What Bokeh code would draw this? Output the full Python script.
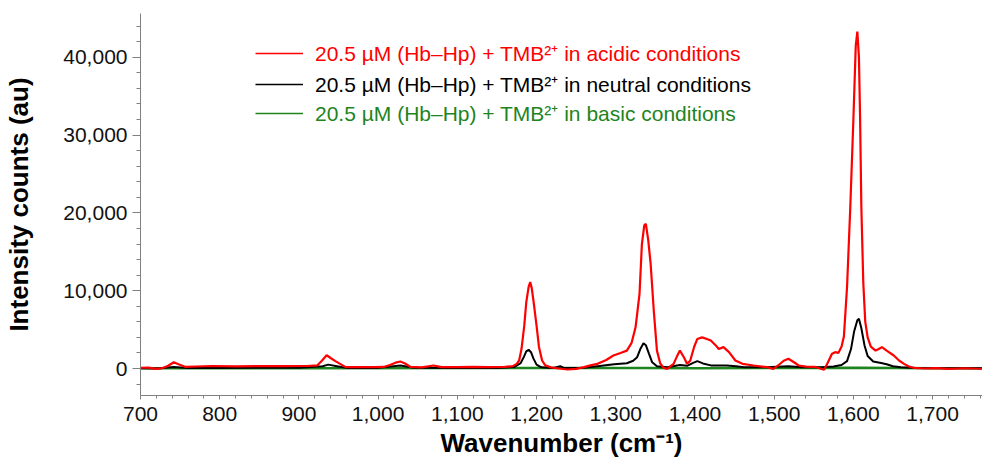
from bokeh.plotting import figure
from bokeh.models import Range1d, FixedTicker, NumeralTickFormatter, Legend, LegendItem
from bokeh.embed import file_html
from bokeh.resources import INLINE

# ---- data ----
wn_acidic = [700, 710, 720, 728, 735, 742, 748, 757, 770, 790, 820, 850, 880, 910, 923, 929, 935, 940, 946, 952, 959,
             975, 995, 1007, 1015, 1022, 1028, 1034, 1041, 1055, 1070, 1080, 1100, 1120, 1140, 1160, 1170, 1175, 1178,
             1181, 1184.5, 1187, 1190, 1192, 1194, 1197, 1200, 1203, 1207, 1211, 1218, 1228, 1239, 1250, 1260, 1268,
             1277, 1288, 1297, 1306, 1314, 1320, 1325, 1330, 1333, 1336, 1338, 1341, 1344, 1348, 1352, 1356, 1360, 1365,
             1373, 1377, 1381, 1386, 1390, 1394, 1399, 1403, 1409, 1415, 1420, 1426, 1430, 1436, 1443, 1451, 1460, 1474,
             1491, 1499, 1505, 1512, 1518, 1525, 1531, 1540, 1552, 1558, 1563, 1567, 1573, 1577, 1581, 1585, 1588, 1592,
             1596, 1600, 1603, 1605, 1607, 1608.5, 1610, 1612.5, 1615, 1618, 1622, 1628, 1632, 1636, 1642, 1651, 1658,
             1664, 1670, 1676, 1690, 1705, 1720, 1740, 1760, 1775]
int_acidic = [100, 120, -40, 60, 350, 800, 550, 200, 260, 320, 280, 300, 300, 320, 390, 1000, 1700, 1350, 950, 600, 170,
              180, 170, 200, 450, 750, 900, 650, 200, 150, 390, 180, 170, 200, 170, 200, 300, 600, 1030,
              2500, 5500, 8500, 10500, 11100, 10300, 8000, 5500, 2800, 1030, 400, 150, 0, -130, -50, 170, 400,
              600, 1100, 1670, 2000, 2300, 3300, 5300, 9600, 16000, 18400, 18600, 16500, 13500, 7450, 2300, 700, 100, -40,
              600, 1500, 2300, 1450, 600, 1000, 2800, 3800, 4000, 3800, 3600, 3000, 2500, 2750, 2100, 1030, 600, 390,
              170, -40, 390, 1000, 1250, 800, 390, 250, 200, 0, -170, 600, 1900, 2100, 2000, 2800, 4100, 10500,
              20500, 32000, 41500, 43300, 40000, 32000, 21000, 11000, 6000, 4000, 2800, 2300, 2500, 2750, 2300, 1670, 1000,
              600, 250, 90, 0, 60, -40, 30, -30, 20]

wn_neutral = [700, 720, 742, 760, 800, 900, 930, 937, 948, 960, 1000, 1028, 1045, 1100, 1150, 1172, 1180, 1184, 1187,
              1190, 1193, 1196, 1200, 1206, 1220, 1230, 1235, 1260, 1277, 1298, 1314, 1322, 1327, 1331, 1335, 1338, 1342,
              1346, 1352, 1365, 1381, 1390, 1397, 1403, 1410, 1420, 1440, 1452, 1462, 1490, 1518, 1535, 1560, 1575, 1585,
              1592, 1597, 1601, 1605, 1607, 1610, 1614, 1618, 1625, 1635, 1642, 1650, 1660, 1680, 1780]
int_neutral = [40, 0, 180, 60, 80, 90, 300, 500, 300, 80, 80, 400, 90, 80, 80, 200, 700, 1500, 2200,
               2400, 2100, 1300, 500, 150, 50, 300, 50, 100, 300, 550, 680, 1000, 1450, 2500, 3250, 3000, 1890,
               800, 300, 150, 450, 350, 700, 950, 650, 400, 380, 300, 170, 150, 300, 150, 150, 250, 450,
               950, 2500, 4800, 6200, 6400, 5200, 3000, 1600, 900, 700, 550, 300, 150, 60, 40]

wn_basic = [700, 900, 1190, 1335, 1400, 1605, 1700, 1780]
int_basic = [20, 30, 60, 80, 40, 100, 20, 20]

labels = ["20.5 \u00b5M (Hb\u2013Hp) + TMB\u00b2\u207a in acidic conditions",
          "20.5 \u00b5M (Hb\u2013Hp) + TMB\u00b2\u207a in neutral conditions",
          "20.5 \u00b5M (Hb\u2013Hp) + TMB\u00b2\u207a in basic conditions"]
colors = ["#ff0000", "#000000", "#1e841e"]

x_major = [700, 800, 900, 1000, 1100, 1200, 1300, 1400, 1500, 1600, 1700]
x_minor = list(range(700, 1781, 20))
y_major = [0, 10000, 20000, 30000, 40000]
y_minor = list(range(-2000, 44001, 2000))

FONT = "Liberation Sans"

p = figure(width=982, height=460, x_range=Range1d(700, 1763), y_range=Range1d(-3470, 45630),
           output_backend="svg", toolbar_location=None,
           min_border_left=140, min_border_right=0, min_border_top=13, min_border_bottom=65)
p.outline_line_color = None
p.xgrid.visible = False
p.ygrid.visible = False

r_basic = p.line(wn_basic, int_basic, line_color=colors[2], line_width=2.5)
r_neutral = p.line(wn_neutral, int_neutral, line_color=colors[1], line_width=2)
r_acidic = p.line(wn_acidic, int_acidic, line_color=colors[0], line_width=2.2)

# legend swatches: thin lines placed outside the visible x range
leg_r = [p.line(x=[0, 1], y=[0, 0], line_color=c, line_width=1.3) for c in colors]

xa = p.xaxis[0]
ya = p.yaxis[0]
xa.ticker = FixedTicker(ticks=x_major, minor_ticks=x_minor)
ya.ticker = FixedTicker(ticks=y_major, minor_ticks=y_minor)
xa.formatter = NumeralTickFormatter(format="0,0")
ya.formatter = NumeralTickFormatter(format="0,0")
for ax in (xa, ya):
    ax.axis_line_color = "#808080"
    ax.major_tick_line_color = "#808080"
    ax.minor_tick_line_color = "#808080"
    ax.major_label_text_font = FONT
    ax.major_label_text_font_size = "21px"
    ax.major_label_text_color = "#111111"
    ax.axis_label_text_font = FONT
    ax.axis_label_text_font_size = "26px"
    ax.axis_label_text_font_style = "bold"
    ax.axis_label_text_color = "#000000"

xa.axis_label = "Wavenumber (cm\u207b\u00b9)"
xa.major_tick_out = 4
xa.major_tick_in = 0
xa.minor_tick_out = 3
xa.minor_tick_in = 0
xa.major_label_standoff = 7
xa.axis_label_standoff = 4

ya.axis_label = "Intensity counts (au)"
ya.major_tick_out = 8
ya.major_tick_in = 0
ya.minor_tick_out = 4
ya.minor_tick_in = 0
ya.major_label_standoff = 5
ya.axis_label_standoff = 26

for r, lab, c, yloc in zip(leg_r, labels, colors, [328, 297, 268]):
    leg = Legend(items=[LegendItem(label=lab, renderers=[r])], location=(115, yloc),
                 glyph_width=48, glyph_height=24, label_height=24, label_standoff=12,
                 padding=0, margin=0, spacing=0, border_line_color=None,
                 background_fill_alpha=0, label_text_color=c, label_text_font=FONT,
                 label_text_font_size="21px", label_text_baseline="middle")
    p.add_layout(leg)

open("out.html", "w").write(file_html(p, INLINE))
